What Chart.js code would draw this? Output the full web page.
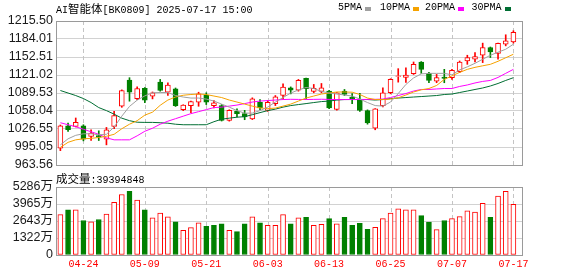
<!DOCTYPE html>
<html><head><meta charset="utf-8">
<script src="https://cdn.jsdelivr.net/npm/chart.js@4.4.1/dist/chart.umd.min.js"></script>
<style>
html,body{margin:0;padding:0;background:#fff;}
#wrap{position:relative;width:578px;height:276px;overflow:hidden;background:#fff;}
canvas{position:absolute;left:0;top:0;}
.t{position:absolute;font-family:"Liberation Mono",monospace;font-size:10px;color:#000;white-space:nowrap;line-height:12px;}
.cjk{font-family:"Noto Sans CJK SC",sans-serif;font-size:11.5px;}
.sq{position:absolute;width:6px;height:4px;}
</style></head><body>
<div id="wrap">
<canvas id="price" width="578" height="276"></canvas>
<canvas id="vol" width="578" height="276"></canvas>
<div class="t" id="title" style="left:56px;top:2px;"></div>
<div id="legend"></div>
<div class="t" id="vlabel" style="left:56px;top:172px;"></div>
</div>
<script>
const titleText = 'AI智能体[BK0809] 2025-07-17 15:00';
const volLabelText = '成交量';
const lastVolume = 39394848;

const dates = ['04-21','04-22','04-23','04-24','04-25','04-28','04-29','04-30','05-06','05-07','05-08','05-09','05-12','05-13','05-14','05-15','05-16','05-19','05-20','05-21','05-22','05-23','05-26','05-27','05-28','05-29','05-30','06-03','06-04','06-05','06-06','06-09','06-10','06-11','06-12','06-13','06-16','06-17','06-18','06-19','06-20','06-23','06-24','06-25','06-26','06-27','06-30','07-01','07-02','07-03','07-04','07-07','07-08','07-09','07-10','07-11','07-14','07-15','07-16','07-17'];

const opens = [993.0,1032.3,1031.0,1032.3,1013.4,1015.2,1008.8,1031.0,1066.5,1112.0,
1079.8,1097.5,1083.9,1108.5,1090.9,1096.9,1060.4,1067.5,1073.3,1085.6,
1067.5,1067.5,1041.6,1057.4,1053.4,1044.1,1073.3,1059.2,1071.0,1085.1,
1098.7,1094.4,1115.0,1092.2,1092.5,1092.7,1061.0,1092.7,1082.4,1079.0,
1058.7,1028.2,1067.5,1089.9,1118.6,1117.0,1123.3,1143.8,1123.9,1110.3,
1117.3,1116.3,1126.9,1145.5,1148.5,1155.6,1169.2,1158.8,1174.9,1179.1];

const closes = [1032.3,1025.2,1038.1,1008.8,1019.4,1012.4,1025.2,1049.9,1093.9,1090.9,
1097.4,1077.0,1089.9,1093.9,1103.2,1067.5,1068.3,1074.5,1088.1,1073.3,
1072.2,1041.6,1059.2,1053.4,1047.6,1079.3,1063.4,1073.3,1082.8,1099.7,
1094.4,1111.5,1096.9,1097.5,1098.6,1063.4,1090.0,1086.9,1078.7,1059.0,
1037.0,1061.7,1089.9,1113.3,1119.6,1121.0,1139.7,1130.9,1111.5,1116.3,
1115.0,1129.1,1143.8,1151.5,1153.3,1169.2,1161.5,1176.4,1180.8,1195.7];

const highs = [1033.5,1037.0,1045.8,1034.0,1025.2,1023.4,1029.3,1057.4,1095.0,1116.3,
1100.4,1099.0,1091.3,1113.3,1107.5,1098.3,1069.0,1075.5,1090.9,1089.9,
1076.3,1069.3,1060.2,1061.7,1059.2,1081.1,1078.1,1076.3,1085.1,1105.7,
1100.2,1113.3,1115.6,1104.5,1106.2,1094.0,1090.5,1095.7,1088.3,1089.0,
1060.0,1062.2,1098.7,1114.5,1132.1,1133.5,1143.8,1144.5,1125.6,1122.1,
1130.9,1130.9,1145.5,1155.6,1160.3,1176.8,1170.0,1177.0,1191.4,1198.5];

const lows = [988.7,1022.2,1030.2,1005.8,1006.4,1006.4,998.8,1027.0,1064.5,1075.2,
1078.0,1072.5,1079.2,1092.7,1085.1,1066.0,1058.7,1055.2,1066.3,1069.3,
1063.4,1040.5,1040.3,1047.6,1042.8,1043.0,1060.4,1057.4,1067.5,1079.3,
1088.0,1092.7,1079.3,1089.9,1089.9,1062.0,1059.5,1085.1,1071.0,1057.4,
1035.0,1025.2,1065.2,1088.1,1108.5,1108.0,1122.0,1123.9,1107.5,1107.5,
1107.5,1113.3,1125.1,1139.7,1143.8,1142.7,1151.6,1148.5,1172.0,1176.8];

const ma5 = [998.8,1009.4,1015.5,1018.2,1018.2,1016.4,1017.3,1030.0,1049.0,1066.0,
1077.0,1084.5,1089.9,1090.4,1090.4,1085.1,1082.5,1080.7,1080.7,1078.9,
1075.4,1070.1,1064.8,1058.7,1054.3,1054.3,1058.7,1064.8,1073.7,1081.6,
1089.5,1094.8,1099.2,1097.4,1092.2,1089.5,1087.7,1086.0,1084.2,1078.9,
1072.8,1067.5,1066.6,1073.7,1088.6,1104.5,1115.9,1123.0,1123.9,1123.9,
1123.9,1121.2,1130.0,1135.3,1141.5,1148.5,1155.6,1160.9,1166.1,1174.9];

const ma10 = [994.4,1003.2,1007.6,1009.4,1010.2,1011.7,1013.8,1017.3,1027.0,1034.9,
1041.1,1050.8,1056.0,1068.0,1077.2,1082.5,1085.6,1086.9,1087.7,1086.9,
1084.2,1081.6,1077.2,1073.7,1070.1,1066.6,1063.4,1062.2,1063.1,1066.6,
1070.1,1075.4,1080.7,1084.2,1087.7,1089.5,1091.3,1091.3,1090.9,1086.9,
1080.7,1078.1,1078.1,1078.9,1081.1,1086.0,1091.3,1095.1,1097.4,1102.7,
1113.3,1119.5,1125.6,1130.9,1134.4,1137.1,1139.7,1145.0,1151.2,1157.3];

const ma20 = [1037.5,1034.0,1030.5,1026.1,1021.7,1017.3,1011.1,1007.6,1007.6,1007.6,
1014.6,1022.6,1027.9,1034.9,1040.2,1044.6,1049.0,1053.4,1056.9,1060.4,
1064.0,1064.8,1066.6,1068.4,1071.0,1073.7,1075.4,1076.3,1077.2,1078.1,
1078.5,1078.3,1078.1,1078.4,1078.6,1078.3,1078.1,1078.0,1078.2,1078.1,
1078.3,1078.5,1078.9,1081.6,1085.1,1088.6,1093.0,1095.7,1095.7,1096.6,
1097.4,1097.4,1101.0,1103.6,1107.1,1109.8,1111.5,1116.8,1123.9,1130.9];

const ma30 = [1093.9,1089.5,1085.1,1079.8,1072.8,1064.0,1058.7,1052.5,1045.5,1041.1,
1038.4,1038.1,1038.1,1037.5,1036.7,1034.9,1034.0,1034.0,1034.0,1034.0,
1039.3,1043.7,1045.5,1047.2,1048.1,1051.6,1055.2,1058.7,1061.3,1064.8,
1067.5,1069.3,1071.0,1072.8,1074.5,1075.4,1077.2,1078.1,1078.1,1078.1,
1078.1,1077.2,1078.1,1079.8,1080.7,1081.6,1082.5,1083.3,1084.2,1085.1,
1086.9,1087.7,1090.4,1093.0,1095.7,1098.3,1101.8,1106.2,1111.5,1116.3];

// volume in 万 (10k shares)
const volumes = [3136,3515,3515,2681,2580,2757,3187,4097,4704,4957,
4274,3515,2883,3262,2959,2580,1922,2124,2504,2226,
2301,2428,1922,1821,2428,2959,2504,2301,2301,3136,
2428,2883,2934,2301,2377,2832,2428,2934,2301,2453,
1998,2150,2832,3262,3591,3515,3515,3060,2554,1973,
2681,2832,2984,3439,3338,4021,2934,4577,4957,3939.4848];

const priceTicks = [963.56,995.05,1026.55,1058.04,1089.53,1121.02,1152.51,1184.01,1215.50];
const volTicks = [0,1321.5,2643,3964.5,5286];
const maNames = ['5PMA','10PMA','20PMA','30PMA'];
const maSeries = [ma5, ma10, ma20, ma30];

// ---- styles ----
const RED = '#ff0000', GREEN = '#008000';
const maColors = ['#a0a0a0','#f5a200','#ff00ff','#006e33'];
const X_MIN = -0.57, X_MAX = 60.12;

function cjkWrap(s){
  return s.replace(/&/g,'&amp;').replace(/</g,'&lt;').replace(/([\u3400-\u9fff]+)/g,'<span class="cjk">$1</span>');
}
document.getElementById('title').innerHTML = cjkWrap(titleText);
document.getElementById('vlabel').innerHTML = cjkWrap(volLabelText + ':' + lastVolume);
const legendLeft = [338, 380, 425, 471.5];
const lg = document.getElementById('legend');
maNames.forEach((n,k)=>{
  const t = document.createElement('div');
  t.className = 't'; t.style.left = legendLeft[k]+'px'; t.style.top = '2px'; t.textContent = n;
  lg.appendChild(t);
  const s = document.createElement('div');
  s.className = 'sq'; s.style.left = (legendLeft[k] + n.length*6 + 3)+'px'; s.style.top = '7px'; s.style.background = maColors[k];
  lg.appendChild(s);
});

const framePlugin = {
  id: 'frame',
  beforeDatasetsDraw(chart){
    const {ctx, chartArea:a, scales:{x}} = chart;
    ctx.save();
    ctx.strokeStyle = '#c4c4c4'; ctx.lineWidth = 1; ctx.setLineDash([4,3]);
    x.ticks.forEach(t => {
      const px = Math.round(x.getPixelForValue(t.value)) + 0.5;
      ctx.beginPath(); ctx.moveTo(px, a.top); ctx.lineTo(px, a.bottom); ctx.stroke();
    });
    ctx.restore();
  },
  afterDraw(chart){
    const {ctx, chartArea:a} = chart;
    ctx.save();
    ctx.strokeStyle = '#9a9a9a'; ctx.lineWidth = 1;
    ctx.strokeRect(Math.round(a.left)+0.5, Math.round(a.top)+0.5, Math.round(a.right-a.left), Math.round(a.bottom-a.top));
    ctx.restore();
  }
};

const common = {
  responsive:false, animation:false, devicePixelRatio:1, events:[],
  plugins:{ legend:{display:false}, tooltip:{enabled:false} }
};

function xScale(showLabels){
  return {
    type:'linear', min:X_MIN, max:X_MAX, offset:false,
    afterBuildTicks: s => { s.ticks = dates.map((d,i)=>i).filter(i => i % 8 === 3).map(v => ({value:v})); },
    afterFit: s => { s.height = showLabels ? 21 : 0; },
    ticks:{ display:showLabels, autoSkip:false, maxRotation:0, padding:3, color:RED,
      font:{family:'Liberation Mono', size:10}, callback: v => dates[v] },
    grid:{ display:false, drawTicks:false },
    border:{ display:false }
  };
}

const up = closes.map((c,i)=> c >= opens[i]);
const volUp = closes.map((c,i)=> i === 0 ? true : c >= closes[i-1]);

new Chart(document.getElementById('price'), {
  type:'bar',
  data:{ datasets:[
    ...maNames.map((n,k)=>({ type:'line', label:n, data: maSeries[k].map((v,i)=>({x:i,y:v})),
      borderColor:maColors[k], borderWidth:1, pointRadius:0, tension:0, fill:false, order:1 })),
    { type:'bar', label:'body', data: opens.map((o,i)=>({x:i, y:[o, closes[i]]})),
      barThickness:5, grouped:false, borderSkipped:false, borderWidth:1,
      backgroundColor: up.map(u => u ? '#ffffff' : GREEN),
      borderColor: up.map(u => u ? RED : GREEN), order:2 },
    { type:'bar', label:'wick', data: lows.map((l,i)=>({x:i, y:[l, highs[i]]})),
      barThickness:1, grouped:false, borderWidth:0,
      backgroundColor: up.map(u => u ? RED : GREEN), order:3 }
  ]},
  options:{
    ...common,
    layout:{ padding:{ top:21, bottom:111, left:0, right:56 } },
    scales:{
      x: xScale(false),
      y: { type:'linear', min:priceTicks[0], max:priceTicks[priceTicks.length-1],
        afterBuildTicks: s => { s.ticks = priceTicks.map(v=>({value:v})); },
        afterFit: s => { s.width = 56; },
        ticks:{ autoSkip:false, color:'#1a1a1a', padding:3, font:{family:'Liberation Sans', size:12.5}, callback: v => v.toFixed(2) },
        grid:{ color:'#d2d2d2', drawTicks:false },
        border:{ display:false } }
    }
  },
  plugins:[framePlugin]
});

new Chart(document.getElementById('vol'), {
  type:'bar',
  data:{ datasets:[
    { label:'volume', data: volumes.map((v,i)=>({x:i, y:v})),
      barThickness:5, grouped:false, borderSkipped:false, borderWidth:1,
      backgroundColor: volUp.map(u => u ? '#ffffff' : GREEN),
      borderColor: volUp.map(u => u ? RED : GREEN) }
  ]},
  options:{
    ...common,
    layout:{ padding:{ top:187, bottom:0, left:0, right:56 } },
    scales:{
      x: xScale(true),
      y: { type:'linear', min:volTicks[0], max:volTicks[volTicks.length-1],
        afterBuildTicks: s => { s.ticks = volTicks.map(v=>({value:v})); },
        afterFit: s => { s.width = 56; },
        ticks:{ autoSkip:false, color:'#1a1a1a', padding:3, font:{family:"'Liberation Sans','Noto Sans CJK SC'", size:12.5},
          callback: v => v === 0 ? '0' : Math.round(v) + '万' },
        grid:{ color:'#d2d2d2', drawTicks:false },
        border:{ display:false } }
    }
  },
  plugins:[framePlugin]
});
</script>
</body></html>
